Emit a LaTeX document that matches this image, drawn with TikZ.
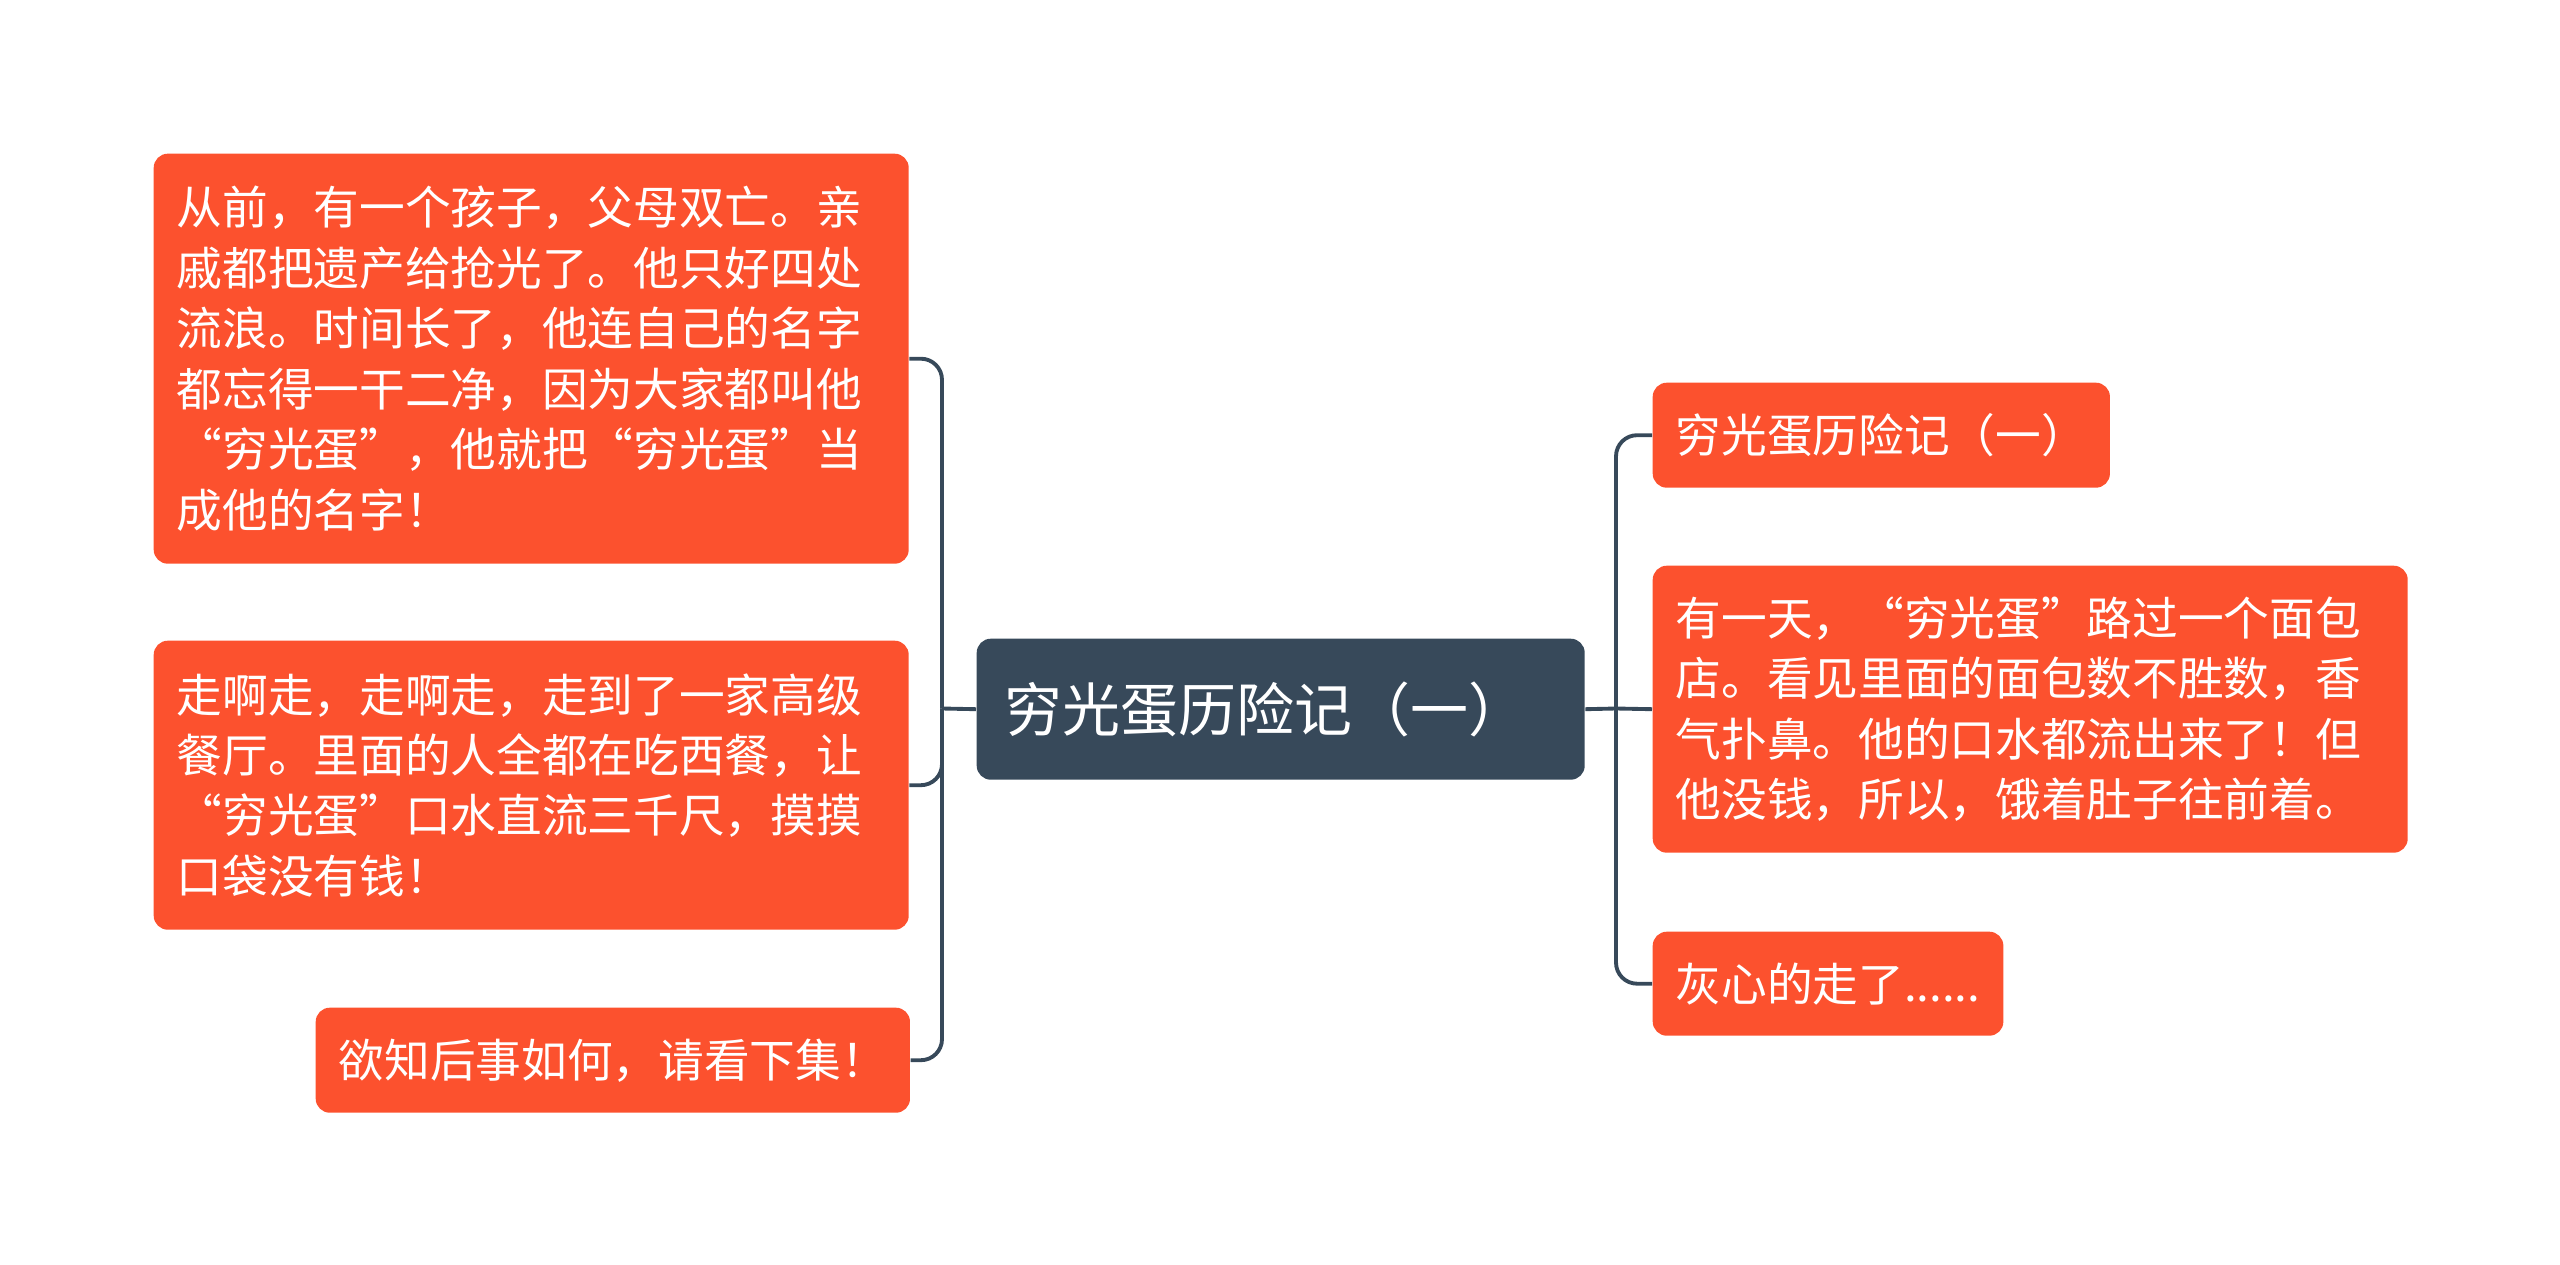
\documentclass[tikz,border=0pt]{standalone}
\usepackage{fontspec}
\newfontfamily\cjk{Noto Sans CJK SC}
\definecolor{leafred}{RGB}{252,81,46}
\definecolor{topicgray}{RGB}{55,73,90}

\begin{document}
\begin{tikzpicture}[
  topic/.style={fill=topicgray, rounded corners=4pt, text=white, anchor=north west, align=left,
    font=\cjk\fontsize{16.5}{20}\selectfont, inner xsep=0.28cm, text width=5.52cm, minimum height=1.41cm},
  leaf/.style={fill=leafred, rounded corners=4pt, text=white, anchor=north west, align=left,
    font=\cjk\fontsize{13}{17.2}\selectfont, inner xsep=0.23cm, inner ysep=0.15cm},
  branch/.style={draw=topicgray, line width=1.1pt, rounded corners=6pt}
]
\useasboundingbox (0,0) rectangle (25.6,-12.65);

\node[topic] (root) at (9.76,-6.38) {穷光蛋历险记（一）};

\node[leaf, text width=7.09cm, minimum height=4.10cm] (orphan) at (1.53,-1.53)
  {从前，有一个孩子，父母双亡。亲\\戚都把遗产给抢光了。他只好四处\\流浪。时间长了，他连自己的名字\\都忘得一干二净，因为大家都叫他\\“穷光蛋”，他就把“穷光蛋”当\\成他的名字！};
\node[leaf, text width=7.09cm, minimum height=2.89cm] (restaurant) at (1.53,-6.40)
  {走啊走，走啊走，走到了一家高级\\餐厅。里面的人全都在吃西餐，让\\“穷光蛋”口水直流三千尺，摸摸\\口袋没有钱！};
\node[leaf, minimum height=1.05cm] (nextep) at (3.15,-10.07) {欲知后事如何，请看下集！};

\node[leaf, minimum height=1.05cm] (title) at (16.52,-3.82) {穷光蛋历险记（一）};
\node[leaf, text width=7.09cm, minimum height=2.87cm] (bakery) at (16.52,-5.65)
  {有一天，“穷光蛋”路过一个面包\\店。看见里面的面包数不胜数，香\\气扑鼻。他的口水都流出来了！但\\他没钱，所以，饿着肚子往前着。};
\node[leaf, minimum height=1.04cm] (leave) at (16.52,-9.31) {灰心的走了......};

\coordinate (lj) at (9.42,-7.085);
\coordinate (rj) at (16.16,-7.085);

\draw[branch] (root.west) -- (lj);
\draw[branch] (lj) |- (orphan.east);
\draw[branch] (lj) |- (restaurant.east);
\draw[branch] (lj) |- (nextep.east);

\draw[branch] (root.east) -- (rj);
\draw[branch] (rj) |- (title.west);
\draw[branch] (rj) -- (bakery.west);
\draw[branch] (rj) |- (leave.west);
\end{tikzpicture}
\end{document}
